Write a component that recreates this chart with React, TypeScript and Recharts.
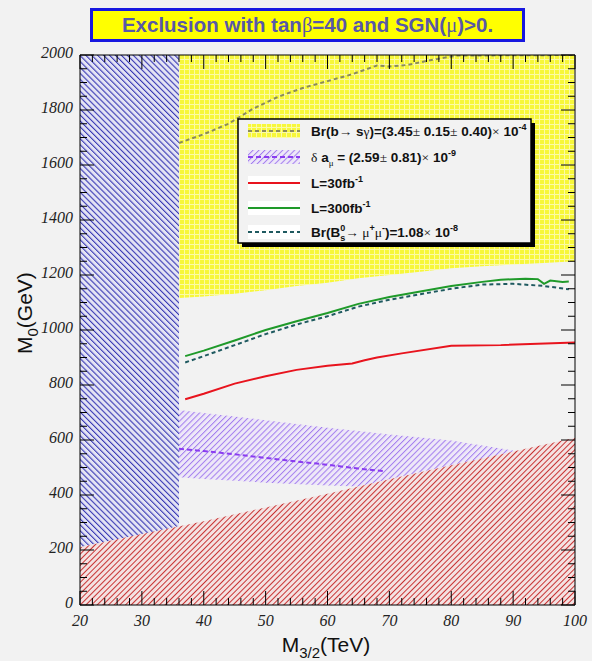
import { ComposedChart, Area, Line, XAxis, YAxis, Label } from "recharts";

// M3/2 in TeV, M0 in GeV

// region without radiative EWSB / tachyonic staus (red hatch), from M0 = 0 up to this edge
const thM32 = [20, 30, 40, 50, 60, 70, 80, 90, 100];
const thM0 = [210, 258, 305, 355, 405, 457, 508, 558, 608];

// LEP chargino bound (blue hatch), from the red edge up to the top
const lepM32 = [20, 36];
const lepLow = [210, 286];

// b -> s gamma excluded (yellow), from this edge up to the top
const bsgM32 = [36, 40, 45, 50, 55, 60, 65, 70, 75, 80, 85, 90, 95, 100];
const bsgLow = [1116, 1122, 1132, 1145, 1160, 1172, 1188, 1200, 1212, 1225, 1232, 1238, 1244, 1250];

// b -> s gamma central contour
const bsgLineM32 = [36, 40, 44, 48, 52, 56, 60, 64, 68, 70, 73, 77, 81, 100];
const bsgLineM0 = [1680, 1712, 1750, 1805, 1848, 1880, 1905, 1930, 1962, 1958, 1964, 1983, 1998, 2000];

// muon g-2 favoured band (purple hatch)
const amuM32 = [36, 40, 50, 60, 65, 70, 80, 90];
const amuLow = [465, 458, 445, 435, 431, 457, 508, 558];
const amuHigh = [709, 698, 672, 645, 633, 620, 598, 562];

// muon g-2 central value
const amuLineM32 = [36, 40, 45, 50, 55, 60, 65, 69];
const amuLineM0 = [568, 560, 548, 535, 522, 510, 496, 487];

// reach with 30 fb^-1
const l30M32 = [37, 40, 45, 50, 55, 60, 64, 66, 68, 72, 80, 88, 100];
const l30M0 = [748, 768, 805, 832, 855, 870, 878, 890, 900, 915, 943, 945, 955];

// reach with 300 fb^-1
const l300M32 = [37, 40, 45, 50, 55, 60, 65, 70, 75, 80, 85, 88, 92, 94, 95, 96, 98, 99];
const l300M0 = [905, 925, 962, 1000, 1032, 1062, 1095, 1120, 1140, 1160, 1175, 1183, 1186, 1185, 1168, 1180, 1175, 1176];

// Bs -> mu mu contour
const bsmmM32 = [37, 40, 45, 50, 55, 60, 65, 70, 75, 80, 85, 90, 95, 99];
const bsmmM0 = [882, 905, 945, 985, 1020, 1050, 1085, 1110, 1130, 1150, 1165, 1168, 1160, 1148];

const M0_TOP = 2000;

// minor ticks every 2 TeV / 50 GeV, labelled every 10 TeV / 200 GeV
const xTicks: number[] = [];
for (let v = 20; v <= 100; v += 2) xTicks.push(v);
const yTicks: number[] = [];
for (let v = 0; v <= 2000; v += 50) yTicks.push(v);

const pts = (xs: number[], ys: number[]) => xs.map((x, i) => ({ x, y: ys[i] }));
const band = (xs: number[], lo: number[], hi: number[]) =>
  xs.map((x, i) => ({ x, r: [lo[i], hi[i]] }));

const theoryData = band(thM32, thM32.map(() => 0), thM0);
const lepData = band(lepM32, lepLow, lepM32.map(() => M0_TOP));
const bsgData = band(bsgM32, bsgLow, bsgM32.map(() => M0_TOP));
const amuData = band(amuM32, amuLow, amuHigh);

const BG = "#f2f2f2";
const MAJ = 14;
const MIN = 7;

const tickFont = {
  fontFamily: "'Liberation Serif', serif",
  fontStyle: "italic" as const,
  fontSize: 16,
  fill: "#222",
};

function LeftTick(p: any) {
  const v = p.payload.value;
  const major = v % 200 === 0;
  return (
    <g>
      <line x1={p.x} x2={p.x + (major ? MAJ : MIN)} y1={p.y} y2={p.y} stroke="#000" />
      {major && (
        <text x={p.x - 7} y={p.y} dy={3} textAnchor="end" {...tickFont}>
          {v}
        </text>
      )}
    </g>
  );
}

function RightTick(p: any) {
  const major = p.payload.value % 200 === 0;
  return <line x1={p.x} x2={p.x - (major ? MAJ : MIN)} y1={p.y} y2={p.y} stroke="#000" />;
}

function BottomTick(p: any) {
  const v = p.payload.value;
  const major = v % 10 === 0;
  return (
    <g>
      <line x1={p.x} x2={p.x} y1={p.y} y2={p.y - (major ? MAJ : MIN)} stroke="#000" />
      {major && (
        <text x={p.x} y={p.y + 21} textAnchor="middle" {...tickFont}>
          {v}
        </text>
      )}
    </g>
  );
}

function TopTick(p: any) {
  const major = p.payload.value % 10 === 0;
  return <line x1={p.x} x2={p.x} y1={p.y} y2={p.y + (major ? MAJ : MIN)} stroke="#000" />;
}

const titleFont = { fontFamily: "'Liberation Sans', Arial, sans-serif", fontSize: 21, fill: "#111" };

function Patterns() {
  return (
    <defs>
      <pattern id="hatchBlue" width={4.2} height={4.2} patternUnits="userSpaceOnUse" patternTransform="rotate(-45)">
        <rect width={4.2} height={4.2} fill="#e4e4f4" />
        <line x1={0} y1={0} x2={0} y2={4.2} stroke="#3838b4" strokeWidth={2.2} />
      </pattern>
      <pattern id="hatchRed" width={4} height={4} patternUnits="userSpaceOnUse" patternTransform="rotate(45)">
        <rect width={4} height={4} fill="#f4e2e2" />
        <line x1={0} y1={0} x2={0} y2={4} stroke="#c83434" strokeWidth={2} />
      </pattern>
      <pattern id="hatchPurple" width={4.2} height={4.2} patternUnits="userSpaceOnUse" patternTransform="rotate(45)">
        <rect width={4.2} height={4.2} fill="#eee8f8" />
        <line x1={0} y1={0} x2={0} y2={4.2} stroke="#a27cee" strokeWidth={2} />
      </pattern>
      <pattern id="gridYellow" width={5} height={5} patternUnits="userSpaceOnUse">
        <rect width={5} height={5} fill="#f7f73a" />
        <rect x={4} y={0} width={1} height={5} fill="#fbfba6" />
        <rect x={0} y={4} width={5} height={1} fill="#fbfba6" />
      </pattern>
    </defs>
  );
}

function Key() {
  const rows = [13, 39, 65, 90, 114];
  const sans = { fontFamily: "'Liberation Sans', Arial, sans-serif", fontWeight: 700, fontSize: 13.5, fill: "#111" };
  const sym = { fontFamily: "'Liberation Serif', serif", fontWeight: 400 };
  const sup = (s: string) => (
    <>
      <tspan dy={-6} fontSize={9}>{s}</tspan>
      <tspan dy={6}> </tspan>
    </>
  );
  const sw = (y: number, fill: string) => <rect x={11} y={y - 7} width={52} height={14} fill={fill} />;
  const tx = 74;
  return (
    <svg width={302} height={134} style={{ position: "absolute", left: 237, top: 118 }}>
      <rect x={5} y={5} width={293} height={124} fill="#000" />
      <rect x={1} y={1} width={293} height={124} fill={BG} stroke="#000" strokeWidth={1.5} />

      {sw(rows[0], "url(#gridYellow)")}
      <line x1={11} x2={63} y1={rows[0]} y2={rows[0]} stroke="#8a8a5c" strokeWidth={2} strokeDasharray="4 3" />
      <text x={tx} y={rows[0] + 5} {...sans}>
        Br(b<tspan {...sym}>→</tspan> s<tspan {...sym}>γ</tspan>)=(3.45<tspan {...sym}>±</tspan> 0.15
        <tspan {...sym}>±</tspan> 0.40)<tspan {...sym}>×</tspan> 10{sup("-4")}
      </text>

      {sw(rows[1], "url(#hatchPurple)")}
      <line x1={11} x2={63} y1={rows[1]} y2={rows[1]} stroke="#8a3cf0" strokeWidth={2} strokeDasharray="5 3" />
      <text x={tx} y={rows[1] + 5} {...sans}>
        <tspan {...sym}>δ</tspan> a<tspan dy={4} fontSize={9} {...sym}>μ</tspan>
        <tspan dy={-4}> = (2.59</tspan><tspan {...sym}>±</tspan> 0.81)<tspan {...sym}>×</tspan> 10{sup("-9")}
      </text>

      {sw(rows[2], "#fff")}
      <line x1={11} x2={63} y1={rows[2]} y2={rows[2]} stroke="#e8141e" strokeWidth={2} />
      <text x={tx} y={rows[2] + 5} {...sans}>
        L=30fb{sup("-1")}
      </text>

      {sw(rows[3], "#fff")}
      <line x1={11} x2={63} y1={rows[3]} y2={rows[3]} stroke="#1f9a2a" strokeWidth={2} />
      <text x={tx} y={rows[3] + 5} {...sans}>
        L=300fb{sup("-1")}
      </text>

      {sw(rows[4], "#fff")}
      <line x1={11} x2={63} y1={rows[4]} y2={rows[4]} stroke="#1f5a60" strokeWidth={2} strokeDasharray="4 3" />
      <text x={tx} y={rows[4] + 5} {...sans}>
        Br(B<tspan dy={-6} fontSize={9}>0</tspan>
        <tspan dx={-5} dy={10} fontSize={9}>s</tspan>
        <tspan dy={-4} {...sym}>→ μ</tspan>
        <tspan dy={-6} fontSize={9}>+</tspan>
        <tspan dy={6} {...sym}>μ</tspan>
        <tspan dy={-6} fontSize={9}>-</tspan>
        <tspan dy={6}>)=1.08</tspan><tspan {...sym}>×</tspan> 10{sup("-8")}
      </text>
    </svg>
  );
}

export default function App() {
  return (
    <div style={{ position: "absolute", left: 0, top: 0, width: 592, height: 661, background: BG, overflow: "hidden" }}>
      <div
        style={{
          position: "absolute",
          left: 90,
          top: 8,
          width: 435,
          height: 34,
          boxSizing: "border-box",
          border: "3px solid #1818e0",
          background: "#ffff00",
          color: "#5858a8",
          font: "bold 20.5px 'Liberation Sans', Arial, sans-serif",
          textAlign: "center",
          lineHeight: "28px",
        }}
      >
        Exclusion with tan<span style={{ fontFamily: "'Liberation Serif', serif", fontWeight: 400 }}>β</span>=40 and SGN(
        <span style={{ fontFamily: "'Liberation Serif', serif", fontWeight: 400 }}>μ</span>)&gt;0.
      </div>

      <ComposedChart width={592} height={661} margin={{ top: 54, right: 16, bottom: 16, left: 8 }}>
        <Patterns />
        <XAxis
          dataKey="x"
          type="number"
          domain={[20, 100]}
          allowDataOverflow
          ticks={xTicks}
          interval={0}
          height={40}
          tickSize={0}
          tickMargin={0}
          tickLine={false}
          axisLine={{ stroke: "#000" }}
          tick={BottomTick}
        >
          <Label
            content={() => (
              <text x={326} y={652} textAnchor="middle" {...titleFont}>
                M<tspan dy={6} fontSize={15}>3/2</tspan>
                <tspan dy={-6}>(TeV)</tspan>
              </text>
            )}
          />
        </XAxis>
        <XAxis
          xAxisId="top"
          orientation="top"
          dataKey="x"
          type="number"
          domain={[20, 100]}
          allowDataOverflow
          ticks={xTicks}
          interval={0}
          height={1}
          tickSize={0}
          tickMargin={0}
          tickLine={false}
          axisLine={{ stroke: "#000" }}
          tick={TopTick}
        />
        <YAxis
          type="number"
          domain={[0, 2000]}
          allowDataOverflow
          ticks={yTicks}
          interval={0}
          width={72}
          tickSize={0}
          tickMargin={0}
          tickLine={false}
          axisLine={{ stroke: "#000" }}
          tick={LeftTick}
        >
          <Label
            content={() => (
              <text transform="translate(32,354) rotate(-90)" {...titleFont}>
                M<tspan dy={6} fontSize={15}>0</tspan>
                <tspan dy={-6}>(GeV)</tspan>
              </text>
            )}
          />
        </YAxis>
        <YAxis
          yAxisId="right"
          orientation="right"
          type="number"
          domain={[0, 2000]}
          allowDataOverflow
          ticks={yTicks}
          interval={0}
          width={1}
          tickSize={0}
          tickMargin={0}
          tickLine={false}
          axisLine={{ stroke: "#000" }}
          tick={RightTick}
        />

        <Area data={bsgData} dataKey="r" type="linear" stroke="none" fill="url(#gridYellow)" fillOpacity={1} isAnimationActive={false} />
        <Area data={lepData} dataKey="r" type="linear" stroke="none" fill="url(#hatchBlue)" fillOpacity={1} isAnimationActive={false} />
        <Area data={amuData} dataKey="r" type="linear" stroke="none" fill="url(#hatchPurple)" fillOpacity={1} isAnimationActive={false} />
        <Area data={theoryData} dataKey="r" type="linear" stroke="none" fill="url(#hatchRed)" fillOpacity={1} isAnimationActive={false} />

        <Line data={pts(bsgLineM32, bsgLineM0)} dataKey="y" type="linear" stroke="#8a8a5c" strokeWidth={2} strokeDasharray="4 3" dot={false} isAnimationActive={false} />
        <Line data={pts(amuLineM32, amuLineM0)} dataKey="y" type="linear" stroke="#8a3cf0" strokeWidth={2} strokeDasharray="5 3" dot={false} isAnimationActive={false} />
        <Line data={pts(l30M32, l30M0)} dataKey="y" type="linear" stroke="#e8141e" strokeWidth={2} dot={false} isAnimationActive={false} />
        <Line data={pts(bsmmM32, bsmmM0)} dataKey="y" type="linear" stroke="#1f5a60" strokeWidth={2} strokeDasharray="4 3" dot={false} isAnimationActive={false} />
        <Line data={pts(l300M32, l300M0)} dataKey="y" type="linear" stroke="#1f9a2a" strokeWidth={2} dot={false} isAnimationActive={false} />
      </ComposedChart>

      <Key />
    </div>
  );
}
